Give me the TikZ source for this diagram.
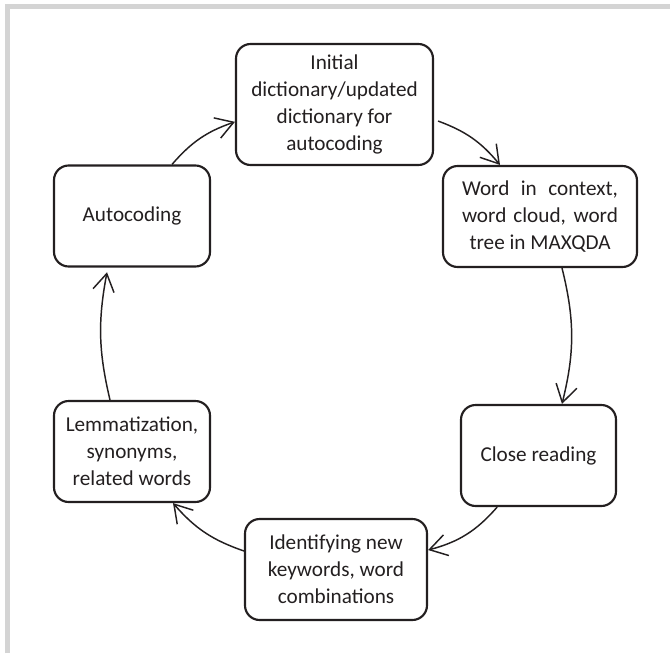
\documentclass[tikz,border=0pt]{standalone}
\usepackage{fontspec}
\setmainfont{Carlito}
\usepackage{xcolor}
\usepackage{tikz}
\usetikzlibrary{arrows.meta}
\definecolor{framegray}{HTML}{D4D4D4}
\definecolor{inkblack} {HTML}{231F20}

\begin{document}
\begin{tikzpicture}[
    x=0.75pt, y=-0.75pt,
    box/.style={draw=inkblack, rounded corners=11pt, line width=1.6pt,
                align=center, inner sep=0pt, text=inkblack,
                minimum height=75.75pt,
                font=\fontsize{15.9}{20.4}\selectfont},
    arr/.style={-{Straight Barb[length=13pt, width=16pt]},
                line width=1.1pt, color=inkblack},
  ]
    \useasboundingbox (0,0) rectangle (670,653);
    \draw[framegray, line width=3.75pt] (7,653) -- (7,6.5) -- (670,6.5);

    \node[box, minimum width=147.75pt, minimum height=90.75pt] (init) at (334.5,104.5)
      {Initial\\dictionary/updated\\dictionary for\\autocoding};
    \node[box, minimum width=145.5pt] (word) at (540,216.5)
      {\makebox[117pt][s]{Word in context,}\\\makebox[117pt][s]{word cloud, word}\\tree in MAXQDA};
    \node[box, minimum width=116.25pt] (close) at (538.5,455.5)
      {Close reading};
    \node[box, minimum width=136.5pt] (ident) at (336,569.5)
      {Identifying new\\keywords, word\\combinations};
    \node[box, minimum width=117pt] (lemma) at (132,451.5)
      {Lemmatization,\\synonyms,\\related words};
    \node[box, minimum width=117pt] (auto) at (132,216)
      {Autocoding};

    \draw[arr] ([xshift=30pt]auto.north) to[bend left=15] ([yshift=-13pt]init.west);
    \draw[arr] ([xshift=3pt, yshift=-12.4pt]init.east) to[bend left=15] ([xshift=-30pt]word.north);
    \draw[arr] ([xshift=16.5pt]word.south) to[bend left=14] ([xshift=17.6pt]close.north);
    \draw[arr] ([xshift=-31pt]close.south) to[bend left=17] ([yshift=14.6pt]ident.east);
    \draw[arr] ([yshift=13.9pt]ident.west) to[bend left=15] ([xshift=30.75pt]lemma.south);
    \draw[arr] ([xshift=-16.5pt]lemma.north) to[bend left=12] ([xshift=-18.75pt, yshift=-3.5pt]auto.south);
  \end{tikzpicture}
\end{document}
